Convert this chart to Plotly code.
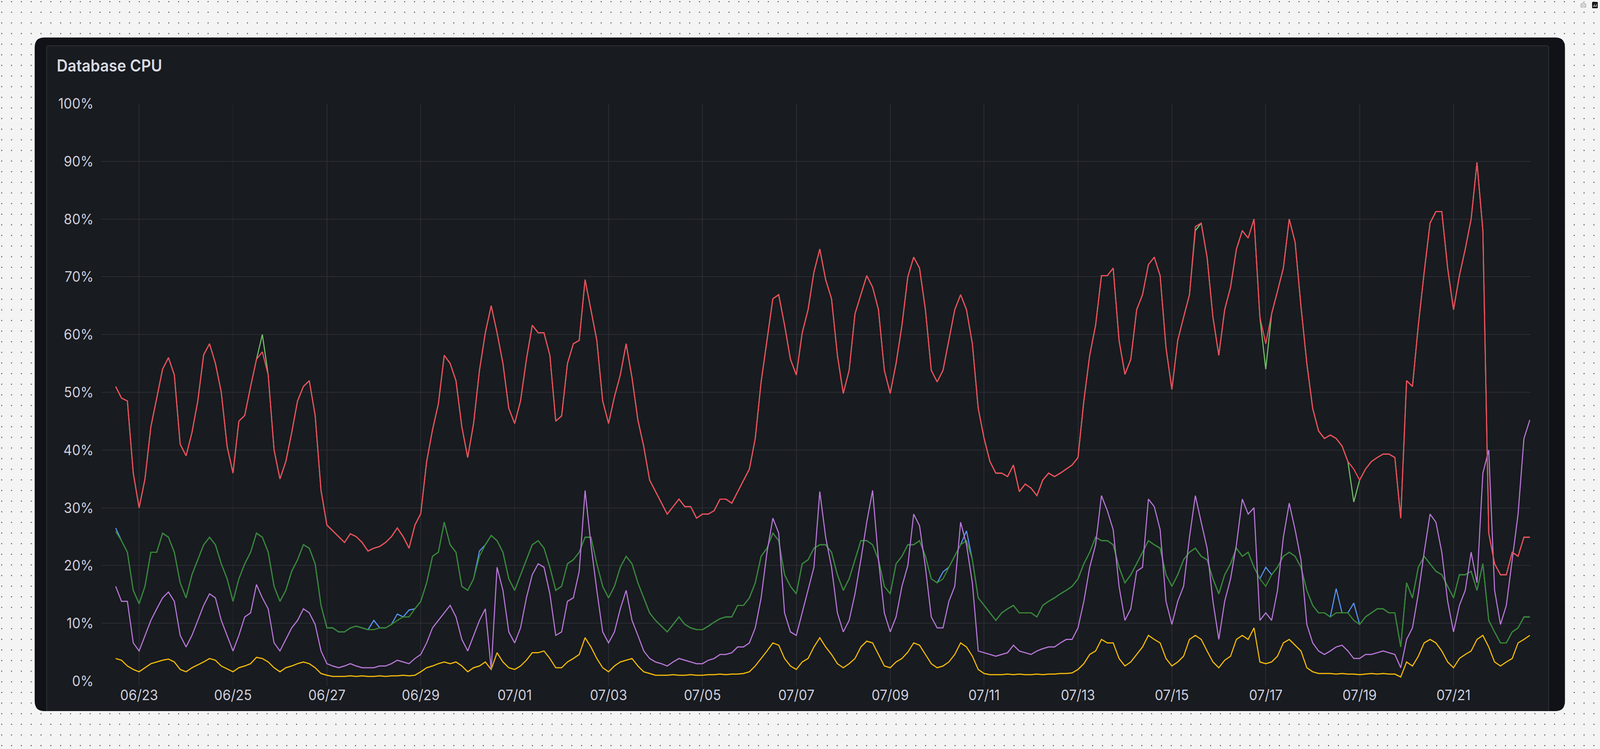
import base64
import pandas as pd
import plotly.graph_objects as go

# ---------------- data (3-hour samples) ----------------
START = "2024-06-22 12:00"
STEP = "3h"

red = [51, 49, 48.5, 36, 30, 35, 44, 49, 54, 56,
       53, 41, 39, 43, 48.5, 56.5, 58.4, 55, 50, 40.6,
       36, 45, 46, 51, 55.7, 57, 53, 40, 35, 38,
       43, 48.5, 51, 52, 46, 33, 27, 26, 25, 24,
       25.5, 25, 24, 22.5, 23, 23.3, 24, 25, 26.5, 25,
       23, 27, 29, 38, 43.5, 48, 56.4, 55, 52, 44,
       38.7, 44.6, 53.8, 60.3, 65, 60.3, 55, 47.2, 44.6, 48.5,
       55.7, 61.6, 60.3, 60.3, 56.4, 45, 45.9, 55, 58.4, 59,
       69.5, 64.3, 59, 48.5, 44.6, 49.2, 53, 58.4, 52.5, 45.2,
       40.6, 34.8, 32.8, 30.8, 28.9, 30.2, 31.5, 30.2, 30.2, 28.2,
       28.9, 28.9, 29.5, 31.5, 31.5, 30.8, 32.8, 34.8, 36.7, 42,
       51.8, 59, 66.2, 66.9, 61.6, 55.7, 53, 60.3, 64.3, 70.8,
       74.8, 69.5, 66.2, 56.4, 49.8, 53.8, 63.6, 66.9, 70.2, 68.2,
       64.3, 53.8, 49.8, 55, 61.6, 70, 73.4, 71.5, 64.3, 53.8,
       51.8, 53.8, 59, 64.3, 66.9, 64.3, 58.4, 47.2, 42, 38,
       36, 36, 35.4, 37.4, 32.8, 34.1, 33.4, 32.1, 34.8, 36,
       35.4, 36, 36.7, 37.4, 38.7, 48.5, 56.4, 61.6, 70.2, 70.2,
       71.5, 59, 53.1, 55.7, 64.3, 66.9, 72.1, 73.4, 70.2, 57.7,
       50.5, 59, 63, 66.9, 78.7, 79.3, 73.4, 63, 56.4, 64.3,
       68.2, 74.8, 78, 76.7, 80, 63, 58.4, 63.6, 67.5, 71.5,
       80, 76, 64.9, 55, 47.2, 43.3, 42, 42.6, 42, 40.7,
       38, 36.7, 34.8, 36.7, 38, 38.7, 39.3, 39.3, 38.7, 28.2,
       52, 51, 61.6, 70.8, 79.3, 81.3, 81.3, 71.5, 64.3, 70.2,
       74.8, 80, 89.8, 78, 25.6, 20.3, 18.4, 18.4, 22.3, 21.6,
       24.9, 24.9]

light_green = [51, 49, 48.5, 36, 30, 35, 44, 49, 54, 56,
               53, 41, 39, 43, 48.5, 56.5, 58.4, 55, 50, 40.6,
               36, 45, 46, 51, 55.7, 60, 53, 40, 35, 38,
               43, 48.5, 51, 52, 46, 33, 27, 26, 25, 24,
               25.5, 25, 24, 22.5, 23, 23.3, 24, 25, 26.5, 25,
               23, 27, 29, 38, 43.5, 48, 56.4, 55, 52, 44,
               38.7, 44.6, 53.8, 60.3, 65, 60.3, 55, 47.2, 44.6, 48.5,
               55.7, 61.6, 60.3, 60.3, 56.4, 45, 45.9, 55, 58.4, 59,
               69.5, 64.3, 59, 48.5, 44.6, 49.2, 53, 58.4, 52.5, 45.2,
               40.6, 34.8, 32.8, 30.8, 28.9, 30.2, 31.5, 30.2, 30.2, 28.2,
               28.9, 28.9, 29.5, 31.5, 31.5, 30.8, 32.8, 34.8, 36.7, 42,
               51.8, 59, 66.2, 66.9, 61.6, 55.7, 53, 60.3, 64.3, 70.8,
               74.8, 69.5, 66.2, 56.4, 49.8, 53.8, 63.6, 66.9, 70.2, 68.2,
               64.3, 53.8, 49.8, 55, 61.6, 70, 73.4, 71.5, 64.3, 53.8,
               51.8, 53.8, 59, 64.3, 66.9, 64.3, 58.4, 47.2, 42, 38,
               36, 36, 35.4, 37.4, 32.8, 34.1, 33.4, 32.1, 34.8, 36,
               35.4, 36, 36.7, 37.4, 38.7, 48.5, 56.4, 61.6, 70.2, 70.2,
               71.5, 59, 53.1, 55.7, 64.3, 66.9, 72.1, 73.4, 70.2, 57.7,
               50.5, 59, 63, 66.9, 78, 79.3, 73.4, 63, 56.4, 64.3,
               68.2, 74.8, 78, 76.7, 80, 63, 54, 63.6, 67.5, 71.5,
               80, 76, 64.9, 55, 47.2, 43.3, 42, 42.6, 42, 40.7,
               38, 31, 34.8, 36.7, 38, 38.7, 39.3, 39.3, 38.7, 28.2,
               52, 51, 61.6, 70.8, 79.3, 81.3, 81.3, 71.5, 64.3, 70.2,
               74.8, 80, 89.8, 78, 25.6, 20.3, 18.4, 18.4, 22.3, 21.6,
               24.9, 24.9]

green = [25.9, 24.3, 22.3, 15.7, 13.4, 16.4, 22.3, 22.3, 25.6, 24.9,
         22.3, 17, 14.4, 18.4, 21, 23.6, 24.9, 23.6, 20.3, 17.7,
         13.8, 17.7, 20.3, 22.3, 25.6, 24.9, 22.3, 16.4, 13.8, 15.7,
         19, 21, 23.6, 23, 20.3, 13.1, 9.2, 9.2, 8.5, 8.5,
         9.2, 9.5, 9.2, 8.9, 8.9, 9.2, 9.2, 9.8, 10.5, 11.1,
         11.1, 12.5, 13.8, 17, 21.6, 22.3, 27.5, 23.6, 22.3, 16.4,
         15.7, 17.7, 21.6, 23.6, 25.2, 24.3, 22.3, 17.7, 15.7, 18.4,
         21, 23.6, 24.3, 23, 19.7, 15.7, 16.4, 20.3, 21, 22.3,
         24.9, 24.9, 20.3, 16.4, 14.4, 16.4, 19.7, 21.6, 20.3, 17,
         14.4, 11.8, 10.5, 9.5, 8.5, 9.8, 11.1, 9.8, 9.2, 8.9,
         8.9, 9.5, 10.2, 10.8, 11.1, 11.1, 13.1, 13.1, 14.4, 17,
         21.6, 23, 25.6, 24.3, 18.4, 16.4, 15.1, 20.3, 21, 23,
         23.6, 23.6, 22.3, 18.4, 15.7, 17.7, 21, 24.3, 24.3, 23.6,
         21, 16.4, 15.1, 20.3, 21.6, 23.6, 23.6, 24.3, 21.6, 17.7,
         17, 17.7, 19.7, 21.6, 23.6, 24.3, 21, 14.4, 13.1, 11.8,
         10.5, 11.8, 12.5, 13.1, 11.8, 11.8, 11.8, 11.1, 13.1, 13.8,
         14.4, 15.1, 15.7, 16.4, 17.7, 20.3, 22.3, 24.9, 24.3, 24.3,
         23.6, 19.7, 17, 18.4, 20.3, 22.3, 24.3, 23.6, 23, 18.4,
         16.4, 18.4, 21, 22.3, 23, 21.6, 21, 17.7, 15.1, 18.4,
         20.3, 23, 21.6, 22.3, 19.7, 17.7, 16.4, 18.4, 19.7, 21.6,
         22.3, 21.6, 19.7, 15.7, 13.1, 11.8, 11.8, 11.1, 11.8, 11.8,
         11.8, 10.5, 9.8, 11.1, 11.8, 12.5, 12.5, 11.8, 11.8, 5.9,
         17, 14.4, 19.7, 21.6, 20.3, 19, 18.4, 16.4, 14.4, 18.4,
         18.4, 19, 15.7, 20.3, 10.5, 8.5, 6.6, 6.6, 8.5, 9.2,
         11.1, 11.1]

blue = [26.5, 24.3, 22.3, 15.7, 13.4, 16.4, 22.3, 22.3, 25.6, 24.9,
        22.3, 17, 14.4, 18.4, 21, 23.6, 24.9, 23.6, 20.3, 17.7,
        13.8, 17.7, 20.3, 22.3, 25.6, 24.9, 22.3, 16.4, 13.8, 15.7,
        19, 21, 23.6, 23, 20.3, 13.1, 9.2, 9.2, 8.5, 8.5,
        9.2, 9.5, 9.2, 8.9, 10.5, 9.2, 9.2, 9.8, 11.6, 11.1,
        12.3, 12.5, 13.8, 17, 21.6, 22.3, 27.5, 23.6, 22.3, 16.4,
        15.7, 17.7, 22.5, 23.6, 25.2, 24.3, 22.3, 17.7, 15.7, 18.4,
        21, 23.6, 24.3, 23, 19.7, 15.7, 16.4, 20.3, 21, 22.3,
        24.9, 24.9, 20.3, 16.4, 14.4, 16.4, 19.7, 21.6, 20.3, 17,
        14.4, 11.8, 10.5, 9.5, 8.5, 9.8, 11.1, 9.8, 9.2, 8.9,
        8.9, 9.5, 10.2, 10.8, 11.1, 11.1, 13.1, 13.1, 14.4, 17,
        21.6, 23, 25.6, 24.3, 18.4, 16.4, 15.1, 20.3, 21, 23,
        23.6, 23.6, 22.3, 18.4, 15.7, 17.7, 21, 24.3, 24.3, 23.6,
        21, 16.4, 15.1, 20.3, 21.6, 23.6, 23.6, 24.3, 21.6, 17.7,
        17, 18.9, 19.7, 21.6, 23.6, 26, 21, 14.4, 13.1, 11.8,
        10.5, 11.8, 12.5, 13.1, 11.8, 11.8, 11.8, 11.1, 13.1, 13.8,
        14.4, 15.1, 15.7, 16.4, 17.7, 20.3, 22.3, 24.9, 24.3, 24.3,
        23.6, 19.7, 17, 18.4, 20.3, 22.3, 24.3, 23.6, 23, 18.4,
        16.4, 18.4, 21, 22.3, 23, 21.6, 21, 17.7, 15.1, 18.4,
        20.3, 23, 21.6, 22.3, 19.7, 17.7, 19.7, 18.4, 19.7, 21.6,
        22.3, 21.6, 19.7, 15.7, 13.1, 11.8, 11.8, 11.1, 16, 11.8,
        11.8, 13.5, 9.8, 11.1, 11.8, 12.5, 12.5, 11.8, 11.8, 5.9,
        17, 14.4, 19.7, 21.6, 20.3, 19, 18.4, 16.4, 14.4, 18.4,
        18.4, 19, 15.7, 20.3, 10.5, 8.5, 6.6, 6.6, 8.5, 9.2,
        11.1, 11.1]

purple = [16.4, 13.8, 13.8, 6.6, 5.2, 7.9, 10.5, 12.5, 14.4, 15.4,
          13.8, 7.9, 5.9, 7.9, 10.5, 13.1, 15.1, 14.4, 10.5, 7.9,
          5.2, 7.9, 11.1, 11.8, 16.7, 14.4, 12.5, 6.6, 5.2, 7.2,
          9.2, 10.5, 12.5, 11.8, 9.8, 5.2, 3, 2.6, 2.3, 2.6,
          3, 2.6, 2.3, 2.3, 2.3, 2.6, 2.6, 3, 3.6, 3.3,
          3, 3.9, 4.6, 6.6, 9.2, 10.5, 11.8, 13.1, 11.1, 7.2,
          5.2, 7.9, 10.5, 12.5, 2.0, 19.7, 15.7, 8.5, 6.6, 9.2,
          14.4, 18.4, 20.3, 19.7, 15.1, 7.9, 8.5, 13.8, 14.4, 19,
          33, 23.6, 15.7, 8.5, 6.6, 8.5, 12.5, 15.7, 10.5, 7.9,
          5.2, 3.9, 3.3, 3, 2.6, 3.3, 3.9, 3.6, 3.3, 3,
          3, 3.6, 3.9, 4.6, 4.6, 4.9, 5.9, 5.9, 6.6, 9.2,
          14.4, 22.3, 28.2, 25.6, 11.8, 8.5, 7.9, 11.8, 15.7, 19.7,
          32.8, 24.9, 19.7, 11.8, 8.5, 10.5, 15.1, 21, 27.5, 33,
          21, 11.8, 8.5, 11.1, 16.4, 20, 28.9, 26.9, 19.7, 11.1,
          9.2, 9.2, 13.8, 16.4, 27.5, 23.6, 17, 5.2, 4.9, 4.6,
          4.3, 4.6, 4.9, 6.2, 5.2, 4.9, 4.6, 5.2, 5.6, 5.9,
          5.9, 6.6, 7.2, 7.2, 9.2, 13.8, 19.7, 23.6, 32.1, 29.5,
          26.2, 16.4, 10.5, 12.5, 19, 19.7, 31.5, 30.2, 26.2, 13.8,
          9.8, 13.8, 16.4, 24.9, 32.1, 27.5, 23, 13.8, 7.2, 13.8,
          17.7, 23.6, 31.5, 28.9, 30, 10.5, 11.8, 10.5, 15.7, 24.9,
          30.8, 26.2, 21, 9.8, 6.6, 5.2, 4.6, 5.2, 5.9, 6.2,
          5.2, 3.9, 3.9, 4.6, 4.6, 4.9, 5.2, 4.9, 4.6, 2.3,
          7.2, 9.2, 15.1, 22.3, 28.9, 27.5, 22.3, 13.8, 8.5, 13.1,
          15.7, 22.3, 17, 36, 40, 15.7, 9.8, 13.1, 21, 28.9,
          42, 45.2]

yellow = [3.9, 3.6, 2.6, 2, 1.6, 2.3, 3, 3.3, 3.6, 3.8,
          3.3, 2, 1.6, 2.3, 2.8, 3.3, 3.9, 3.6, 2.6, 2.1,
          1.6, 2.3, 2.6, 3, 4.1, 3.9, 3.3, 2.3, 1.6, 2.3,
          2.6, 3, 3.3, 3, 2.3, 1.3, 1, 0.8, 0.8, 0.8,
          0.9, 0.8, 0.9, 0.8, 0.8, 0.9, 0.8, 0.9, 0.9, 1,
          0.9, 1, 1.6, 2.3, 2.6, 3, 3.3, 3, 3.3, 2.6,
          1.6, 2.3, 2.6, 3.3, 2, 4.9, 3.3, 2.3, 2, 2.6,
          3.6, 4.9, 4.9, 5.2, 3.9, 2.3, 2.3, 3.3, 3.9, 4.6,
          7.5, 5.9, 3.9, 2.3, 1.6, 2.6, 3.3, 3.6, 3.9, 2.6,
          1.6, 1.3, 1, 1, 1, 1.1, 1, 1, 1.1, 1,
          1, 1.1, 1.1, 1.2, 1.1, 1.2, 1.2, 1.3, 1.6, 2.6,
          3.9, 5.2, 6.6, 6.2, 3.9, 2.6, 2, 3.3, 3.9, 5.9,
          7.5, 5.9, 4.6, 3, 2.3, 3, 3.9, 5.9, 6.9, 6.6,
          4.6, 2.6, 2.3, 3.3, 3.9, 5, 6.6, 6.2, 4.6, 3,
          2.3, 2.6, 3.3, 4.6, 6.6, 5.9, 4.3, 2, 1.3, 1.1,
          1.1, 1.1, 1.2, 1.1, 1.2, 1.1, 1.1, 1.2, 1.1, 1.2,
          1.2, 1.3, 1.3, 1.4, 2, 3, 4.6, 5.2, 7.2, 6.6,
          6.6, 3.9, 2.6, 3.3, 4.6, 5.9, 7.9, 7.2, 6.6, 3.9,
          2.6, 3.3, 4.3, 7.2, 7.9, 7.2, 5.2, 3.3, 2.3, 3.6,
          4.3, 7.2, 7.9, 7.2, 9.2, 3.3, 3, 3.3, 4.3, 6.6,
          7.2, 6.2, 5.2, 2.3, 1.6, 1.3, 1.3, 1.3, 1.2, 1.3,
          1.2, 1.2, 1.1, 1.2, 1.3, 1.2, 1.3, 1.2, 1.2, 0.7,
          3.3, 2.6, 4.3, 6.6, 7.2, 6.6, 5.2, 3.3, 2.3, 3.9,
          4.6, 5.2, 7.2, 7.9, 5.9, 3.3, 2.6, 3.3, 3.9, 6.6,
          7.2, 7.9]

Y_TICKS = [0, 10, 20, 30, 40, 50, 60, 70, 80, 90, 100]
Y_LABELS = ["0%", "10%", "20%", "30%", "40%", "50%", "60%", "70%", "80%", "90%", "100%"]
X_RANGE = ["2024-06-22 04:36", "2024-07-22 15:36"]
TITLE = "Database CPU"

times = pd.date_range(START, periods=len(red), freq=STEP)

# ---------------- geometry helpers (page pixels -> paper coords) ----------------
W, H = 4428, 1917
PL, PR, PT, PB = 280, 4237, 265, 1743


def px(x):
    return (x - PL) / (PR - PL)


def py(y):
    return (PB - y) / (PB - PT)


def rounded_rect(x0, y0, x1, y1, r):
    return (f"M {px(x0 + r)},{py(y0)} L {px(x1 - r)},{py(y0)} "
            f"Q {px(x1)},{py(y0)} {px(x1)},{py(y0 + r)} "
            f"L {px(x1)},{py(y1 - r)} Q {px(x1)},{py(y1)} {px(x1 - r)},{py(y1)} "
            f"L {px(x0 + r)},{py(y1)} Q {px(x0)},{py(y1)} {px(x0)},{py(y1 - r)} "
            f"L {px(x0)},{py(y0 + r)} Q {px(x0)},{py(y0)} {px(x0 + r)},{py(y0)} Z")


fig = go.Figure()

series = [
    ("blue", blue, "#5794F2"),
    ("green", green, "#37872D"),
    ("yellow", yellow, "#F2B90C"),
    ("purple", purple, "#B877D9"),
    ("light green", light_green, "#73BF69"),
    ("red", red, "#F2495C"),
]
for name, vals, col in series:
    fig.add_trace(go.Scatter(x=times, y=vals, mode="lines", name=name,
                             line=dict(color=col, width=3), hoverinfo="skip"))

# dotted page background
svg = (f'<svg xmlns="http://www.w3.org/2000/svg" width="{W}" height="{H}">'
       '<defs><pattern id="d" x="3.5" y="3" width="27.2" height="27.2" '
       'patternUnits="userSpaceOnUse"><rect width="2.4" height="2.4" fill="#262626"/>'
       '</pattern></defs><rect width="100%" height="100%" fill="#f4f4f4"/>'
       '<rect width="100%" height="100%" fill="url(#d)"/></svg>')
src = "data:image/svg+xml;base64," + base64.b64encode(svg.encode()).decode()

inner_outline = (f"M {px(129)},{py(1820)} L {px(129)},{py(123)} "
                 f"Q {px(129)},{py(117)} {px(135)},{py(117)} L {px(4280)},{py(117)} "
                 f"Q {px(4286)},{py(117)} {px(4286)},{py(123)} L {px(4286)},{py(1820)}")

grid = "#2b2d32"
fig.update_layout(
    width=W, height=H, autosize=False,
    margin=dict(l=PL, r=W - PR, t=PT, b=H - PB, pad=0),
    paper_bgcolor="#f4f4f4", plot_bgcolor="rgba(0,0,0,0)",
    showlegend=False,
    images=[dict(source=src, xref="paper", yref="paper", x=px(0), y=py(0),
                 sizex=W / (PR - PL), sizey=H / (PB - PT), xanchor="left",
                 yanchor="top", sizing="stretch", layer="below")],
    shapes=[
        dict(type="path", xref="paper", yref="paper", layer="below",
             path=rounded_rect(96, 96, 4331, 1820, 26),
             fillcolor="#111217", line=dict(width=0)),
        dict(type="path", xref="paper", yref="paper", layer="below",
             path=inner_outline + " Z",
             fillcolor="#181b1f", line=dict(width=0)),
        dict(type="path", xref="paper", yref="paper", layer="below",
             path=inner_outline,
             fillcolor="rgba(0,0,0,0)", line=dict(color="#2a2d33", width=2.5)),
    ],
    annotations=[dict(text=TITLE, xref="paper", yref="paper", x=px(155), y=py(167),
                      xanchor="left", yanchor="middle", showarrow=False,
                      font=dict(family="Inter", size=42, color="#d8d9e3", weight=600))],
    xaxis=dict(type="date", range=X_RANGE, showgrid=True, gridcolor=grid, gridwidth=2,
               tickformat="%m/%d", dtick=2 * 86400000, tick0="2024-06-23",
               ticks="outside", ticklen=12, tickwidth=2, tickcolor=grid,
               ticklabelstandoff=-8,
               tickfont=dict(family="Inter", size=37, color="#ccccdc"),
               zeroline=False, showline=False, fixedrange=True),
    yaxis=dict(range=[0, 100], tickmode="array", tickvals=Y_TICKS, ticktext=Y_LABELS,
               showgrid=True, gridcolor=grid, gridwidth=2, ticks="",
               ticklabelstandoff=20,
               tickfont=dict(family="Inter", size=37, color="#ccccdc"),
               zeroline=False, showline=False, fixedrange=True),
)

# fit the fixed-size figure exactly into the browser viewport
FIT_JS = """
(function(){
  var gd = document.getElementById('{plot_id}');
  document.documentElement.style.margin = '0';
  document.documentElement.style.overflow = 'hidden';
  document.body.style.margin = '0';
  document.body.style.overflow = 'hidden';
  function fit(){
    var sx = window.innerWidth / %d, sy = window.innerHeight / %d;
    gd.style.transformOrigin = '0 0';
    gd.style.transform = 'scale(' + sx + ',' + sy + ')';
  }
  fit();
  window.addEventListener('resize', fit);
})();
""" % (W, H)

fig.write_html("out.html", post_script=FIT_JS)
